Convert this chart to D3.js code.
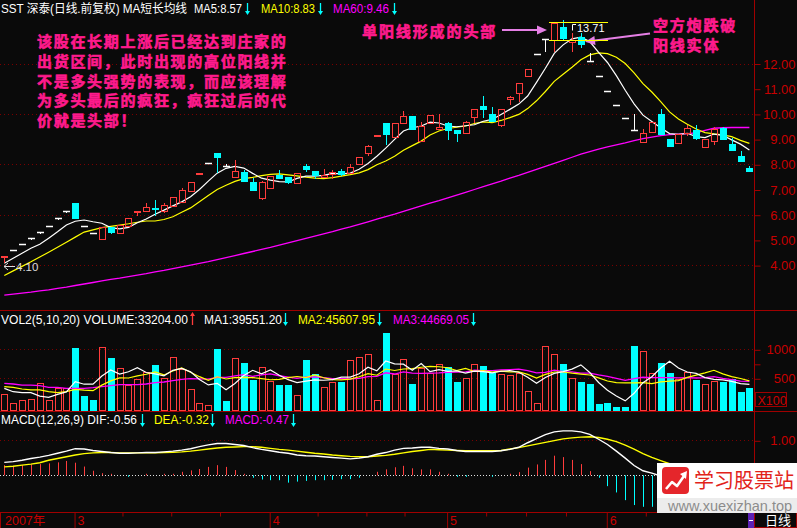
<!DOCTYPE html>
<html><head><meta charset="utf-8">
<script src="https://cdn.jsdelivr.net/npm/d3@7/dist/d3.min.js"></script>
<style>
html,body{margin:0;padding:0;background:#0a0a0a;overflow:hidden;}
svg{display:block;}
text{font-family:"Liberation Sans",Arial,"Noto Sans CJK SC",sans-serif;}
</style></head><body>
<svg id="chart" width="797" height="528"></svg>
<script>
// ---------------- DATA ----------------
const opens = [4.31,4.59,4.82,5.06,5.31,5.57,5.85,6.14,6.45,5.54,5.26,5.02,5.50,5.26,5.55,6.12,6.16,6.27,6.14,6.35,6.49,6.96,7.63,8.04,8.44,7.93,7.48,7.71,7.31,6.68,7.05,7.58,7.48,7.27,7.93,7.73,7.51,7.60,7.73,7.67,8.02,8.46,9.14,9.63,9.10,9.65,9.92,8.94,9.63,9.42,9.63,9.36,9.23,9.86,10.31,10.00,9.56,10.58,10.82,11.50,12.37,12.99,12.93,13.44,12.85,13.06,12.09,11.49,10.92,10.37,9.85,9.36,8.90,9.29,10.00,8.99,8.83,9.25,9.36,8.70,8.94,9.43,8.81,8.33,7.84];
const highs = [4.37,4.59,4.82,5.06,5.31,5.57,5.85,6.14,6.48,5.54,5.26,5.52,5.52,5.60,5.87,6.15,6.45,6.58,6.48,6.70,7.05,7.30,7.66,8.04,8.44,8.00,8.17,7.78,7.45,7.32,7.55,7.78,7.50,7.65,8.00,7.74,7.82,7.78,7.80,8.00,8.30,8.75,9.17,9.64,9.64,10.10,9.93,9.66,9.95,10.00,9.68,9.38,9.70,10.20,10.70,10.26,10.20,10.70,11.23,11.79,12.37,12.99,13.64,13.71,13.20,13.20,12.43,11.49,10.92,10.37,9.85,10.00,9.42,9.68,10.20,9.00,9.21,9.55,9.55,9.00,9.50,9.50,9.05,8.54,7.95];
const lows = [4.10,4.55,4.82,5.00,5.22,5.50,5.78,6.08,5.83,5.54,5.26,5.00,5.25,5.24,5.53,5.96,6.14,5.96,6.07,6.33,6.45,6.94,7.63,8.04,7.64,7.88,7.46,7.30,6.94,6.60,7.03,7.40,7.20,7.25,7.70,7.40,7.49,7.42,7.55,7.65,8.00,8.33,9.10,8.77,9.08,9.60,9.35,8.92,9.61,9.40,8.97,8.90,9.21,9.65,9.85,9.67,9.50,10.35,10.47,11.48,12.37,12.47,12.47,12.90,12.45,12.60,12.09,11.49,10.92,10.37,9.85,9.36,8.88,9.27,9.15,8.69,8.81,9.12,8.98,8.69,8.77,8.95,8.53,8.09,7.70];
const closes = [4.37,4.59,4.82,5.06,5.31,5.57,5.85,6.14,5.83,5.54,5.26,5.52,5.29,5.58,5.86,6.15,6.29,6.22,6.38,6.69,6.98,7.29,7.66,8.04,8.26,7.93,7.73,7.31,6.95,7.31,7.54,7.42,7.27,7.64,7.77,7.53,7.57,7.68,7.57,7.88,8.28,8.73,9.16,9.17,9.63,9.92,9.36,9.52,9.94,9.47,9.33,9.20,9.69,10.18,10.15,9.69,10.18,10.69,11.22,11.78,12.37,12.99,13.62,12.96,12.95,12.73,12.09,11.49,10.92,10.37,9.85,9.36,9.23,9.67,9.16,8.70,9.20,9.43,8.99,8.99,9.39,8.96,8.54,8.10,7.71];
const ma5 = [4.07,4.27,4.47,4.67,4.83,5.07,5.32,5.59,5.74,5.79,5.72,5.66,5.49,5.44,5.50,5.68,5.83,6.02,6.18,6.35,6.51,6.71,7.00,7.33,7.65,7.84,7.92,7.85,7.64,7.45,7.37,7.31,7.30,7.44,7.53,7.53,7.56,7.64,7.62,7.65,7.80,8.03,8.32,8.64,8.99,9.32,9.45,9.52,9.67,9.64,9.52,9.49,9.53,9.57,9.71,9.78,9.98,10.18,10.39,10.71,11.25,11.81,12.40,12.74,12.98,13.05,12.87,12.44,12.04,11.52,10.94,10.40,9.95,9.70,9.45,9.22,9.19,9.23,9.10,9.06,9.20,9.15,8.97,8.80,8.57];
const ma10 = [3.59,3.77,3.95,4.13,4.32,4.51,4.71,4.91,5.11,5.31,5.40,5.49,5.54,5.59,5.64,5.70,5.75,5.75,5.81,5.92,6.10,6.27,6.51,6.76,7.00,7.17,7.32,7.43,7.48,7.55,7.60,7.62,7.58,7.54,7.49,7.45,7.43,7.47,7.53,7.59,7.66,7.79,7.98,8.13,8.32,8.56,8.74,8.92,9.16,9.32,9.42,9.47,9.52,9.62,9.68,9.65,9.74,9.85,9.98,10.21,10.52,10.89,11.29,11.57,11.85,12.15,12.34,12.42,12.39,12.25,12.00,11.63,11.20,10.87,10.49,10.08,9.80,9.59,9.40,9.26,9.21,9.17,9.10,8.95,8.83];
const ma60 = [2.81,2.85,2.89,2.93,2.98,3.02,3.08,3.13,3.19,3.25,3.31,3.37,3.43,3.48,3.54,3.60,3.66,3.73,3.79,3.86,3.93,4.00,4.07,4.14,4.22,4.30,4.38,4.46,4.54,4.62,4.70,4.79,4.88,4.97,5.06,5.15,5.24,5.33,5.43,5.52,5.62,5.72,5.82,5.92,6.02,6.13,6.24,6.35,6.46,6.56,6.67,6.78,6.89,7.00,7.11,7.22,7.33,7.45,7.56,7.68,7.80,7.92,8.04,8.16,8.28,8.40,8.50,8.60,8.69,8.77,8.85,8.94,9.02,9.08,9.14,9.18,9.20,9.22,9.25,9.35,9.43,9.45,9.46,9.46,9.46];
const volumes = [224,69,121,138,414,121,328,328,1017,195,126,1034,845,672,384,483,614,729,500,862,655,310,69,34,1000,109,845,764,471,690,453,384,384,212,816,574,345,436,436,810,862,914,121,1281,569,828,402,683,586,741,690,436,500,741,712,586,569,557,597,281,74,1057,914,747,500,436,402,57,74,12,12,1057,966,586,764,591,483,614,471,397,448,441,483,264,332];
const volMa5 = [326,269,252,252,193,173,224,266,442,398,399,540,643,574,612,684,600,576,542,638,672,611,479,386,414,304,411,550,638,576,645,552,476,425,450,474,466,477,521,520,578,692,629,798,749,743,640,753,614,648,620,627,591,622,616,595,622,633,604,518,416,513,585,615,658,731,600,428,294,196,111,242,424,527,677,793,678,608,585,511,483,474,448,407,396];
const volMa10 = [355,345,316,299,299,269,252,269,310,296,286,382,455,508,505,541,570,610,558,625,678,605,528,464,526,488,511,515,512,495,475,482,513,531,513,559,509,477,473,485,526,579,553,660,635,660,666,691,706,699,682,634,672,618,632,608,624,612,613,567,505,567,609,609,588,573,557,507,454,427,421,421,426,410,437,452,460,516,556,594,638,576,528,496,456];
const volMa20 = [414,402,384,384,373,345,345,328,328,328,339,355,373,390,390,390,402,424,436,460,482,494,491,486,515,515,541,562,535,560,576,544,521,498,519,524,510,496,492,490,500,530,533,595,574,610,588,584,589,592,604,606,612,639,633,634,645,651,659,633,593,601,640,614,610,590,590,559,534,497,463,494,518,510,512,513,508,511,505,511,529,499,477,453,447];
const dif = [0.37,0.39,0.43,0.48,0.52,0.57,0.63,0.69,0.76,0.75,0.71,0.68,0.65,0.63,0.63,0.64,0.65,0.65,0.67,0.69,0.72,0.76,0.82,0.87,0.91,0.91,0.88,0.85,0.79,0.74,0.70,0.66,0.63,0.58,0.56,0.55,0.53,0.51,0.49,0.47,0.49,0.53,0.60,0.65,0.72,0.77,0.78,0.80,0.80,0.77,0.75,0.71,0.68,0.68,0.68,0.68,0.70,0.74,0.80,0.93,1.05,1.16,1.24,1.27,1.27,1.24,1.17,1.03,0.88,0.69,0.49,0.28,0.13,0.06,-0.02,-0.10,-0.15,-0.18,-0.22,-0.26,-0.28,-0.32,-0.38,-0.46,-0.56];
const dea = [0.24,0.26,0.29,0.32,0.36,0.43,0.48,0.53,0.58,0.62,0.64,0.65,0.65,0.64,0.64,0.64,0.64,0.64,0.65,0.66,0.67,0.69,0.72,0.75,0.78,0.80,0.81,0.82,0.82,0.80,0.77,0.74,0.72,0.69,0.66,0.63,0.61,0.58,0.56,0.54,0.53,0.53,0.55,0.57,0.60,0.64,0.68,0.71,0.74,0.73,0.72,0.71,0.70,0.70,0.70,0.70,0.71,0.75,0.79,0.84,0.89,0.94,0.99,1.04,1.07,1.09,1.10,1.08,1.03,0.96,0.86,0.75,0.62,0.51,0.42,0.33,0.25,0.18,0.11,0.04,-0.03,-0.10,-0.17,-0.25,-0.32];
const macdHist = [0.29,0.27,0.29,0.31,0.32,0.34,0.37,0.41,0.36,0.25,0.13,0.06,0.01,0.00,-0.01,0.00,0.01,0.00,0.01,0.02,0.10,0.14,0.18,0.24,0.29,0.24,0.15,0.03,-0.07,-0.12,-0.14,-0.14,-0.21,-0.18,-0.16,-0.14,-0.14,-0.13,-0.11,-0.11,-0.07,0.00,0.10,0.17,0.23,0.27,0.20,0.17,0.17,0.10,0.01,-0.01,-0.01,0.00,0.00,-0.01,0.00,0.02,0.09,0.22,0.31,0.44,0.56,0.52,0.44,0.32,0.12,-0.07,-0.31,-0.49,-0.71,-0.85,-0.90,-0.90,-0.88,-0.86,-0.80,-0.72,-0.66,-0.60,-0.50,-0.44,-0.42,-0.43,-0.47];

const priceTicks = [4,5,6,7,8,9,10,11,12];
const priceGrid = [4,6,8,10,12];
const volTicks = [500,750,1000];
const volLabels = [500,1000];
const macdTicks = [1];
const monthStarts = [8,30,50,68];
const monthLabels = ["3","4","5","6"];
const weekTicks = [13.4,18.9,24.4,35.4,40.9,45.2,54.4,58.9,63.4,72.4];
const yearLabel = "2007年";

const priceHeader = ["SST 深泰(日线.前复权) MA短长均线","MA5:8.57","MA10:8.83","MA60:9.46"];
const volHeader = ["VOL2(5,10,20) VOLUME:33204.00","MA1:39551.20","MA2:45607.95","MA3:44669.05"];
const macdHeader = ["MACD(12,26,9) DIF:-0.56","DEA:-0.32","MACD:-0.47"];
const noteLines = ["该股在长期上涨后已经达到庄家的","出货区间，此时出现的高位阳线并","不是多头强势的表现，而应该理解","为多头最后的疯狂，疯狂过后的代","价就是头部！"];
const noteHead = "单阳线形成的头部";
const noteBreak = ["空方炮跌破","阳线实体"];
const highLabel = "13.71", lowLabel = "4.10";

// ---------------- DRAW ----------------
const svg = d3.select('#chart');
const W=797,H=528,AX=754;
const RED='#ff3c3c', CYAN='#00ffff', WHITE='#ffffff', YEL='#ffff00', MAG='#ff00ff';
const AXC='#a00000', AXT='#c80000', GRID='#7a0000', NOTE='#ff1a8c', ARW='#e57fe5';

svg.append('rect').attr('width',W).attr('height',H).attr('fill','#0a0a0a');

const N = closes.length;
const x = d3.scaleLinear().domain([0,N-1]).range([4.3,749.4]);
const cx = i => Math.round(x(i));
const yP = d3.scaleLinear().domain([4,12]).range([265.1,63.5]);
const yV = d3.scaleLinear().domain([0,1000]).range([407.3,349.3]);
const yM = d3.scaleLinear().domain([0,1]).range([475.3,440.3]);

const defs = svg.append('defs');
function clip(id,x0,y0,w,h){defs.append('clipPath').attr('id',id).append('rect').attr('x',x0).attr('y',y0).attr('width',w).attr('height',h);}
clip('cp',0,18,AX,292); clip('cv',0,328,AX,83); clip('cm',0,427,AX,85);

function hline(g,x1,x2,y,stroke,dash){const l=g.append('line').attr('x1',x1).attr('x2',x2).attr('y1',y).attr('y2',y).attr('stroke',stroke).attr('stroke-width',1);if(dash)l.attr('stroke-dasharray',dash);return l;}
function vline(g,xx,y1,y2,stroke,w){return g.append('line').attr('x1',xx).attr('x2',xx).attr('y1',y1).attr('y2',y2).attr('stroke',stroke).attr('stroke-width',w||1);}
function txt(g,xx,yy,s,fill,size,o={}){const t=g.append('text').attr('x',xx).attr('y',yy).attr('fill',fill).attr('font-size',size).text(s);
  if(o.anchor)t.attr('text-anchor',o.anchor); if(o.weight)t.attr('font-weight',o.weight); if(o.family)t.attr('font-family',o.family);
  if(o.ls!=null)t.attr('letter-spacing',o.ls); if(o.len)t.attr('textLength',o.len).attr('lengthAdjust','spacingAndGlyphs');
  if(o.stroke)t.attr('stroke',fill).attr('stroke-width',o.stroke); return t;}
function arrowV(g,xx,yTail,yTip,color){const d=Math.sign(yTip-yTail);
  vline(g,xx+0.5,yTail,yTip-d*3,color,1.3);
  g.append('path').attr('d',`M${xx-2},${yTip-d*4} L${xx+3},${yTip-d*4} L${xx+0.5},${yTip} Z`).attr('fill',color);}

// grids
const grid = svg.append('g');
priceGrid.forEach(v=>hline(grid,0,AX,Math.round(yP(v))+0.5,GRID,'1,3'));
volLabels.forEach(v=>hline(grid,0,AX,Math.round(yV(v))+0.5,GRID,'1,3'));
macdTicks.forEach(v=>hline(grid,0,AX,Math.round(yM(v))+0.5,GRID,'1,3'));
hline(grid,0,AX,Math.round(yM(0))+0.5,'#e0e0e0','1,2');

// ---- price panel ----
const gp = svg.append('g').attr('clip-path','url(#cp)');
const lineP = arr => d3.line().x((d,i)=>x(i)).y(d=>yP(d))(arr);
gp.append('path').attr('d',lineP(ma60)).attr('stroke',MAG).attr('fill','none').attr('stroke-width',1.3);
gp.append('path').attr('d',lineP(ma10)).attr('stroke',YEL).attr('fill','none').attr('stroke-width',1.2);
gp.append('path').attr('d',lineP(ma5)).attr('stroke',WHITE).attr('fill','none').attr('stroke-width',1.2);

for(let i=0;i<N;i++){
  const o=opens[i],h=highs[i],l=lows[i],c=closes[i],X=cx(i);
  const yh=Math.round(yP(h)), yl=Math.round(yP(l));
  if(c>o){
    const t=Math.round(yP(c)), b=Math.round(yP(o));
    if(t<b-1){
      vline(gp,X+0.5,yh,t,RED); vline(gp,X+0.5,b,yl,RED);
      gp.append('rect').attr('x',X-3+0.5).attr('y',t+0.5).attr('width',6).attr('height',b-t).attr('fill','none').attr('stroke',RED);
    } else {
      vline(gp,X+0.5,yh,yl,RED);
      gp.append('rect').attr('x',X-3).attr('y',t).attr('width',7).attr('height',2).attr('fill',RED);
    }
  } else if(c<o){
    const t=Math.round(yP(o)), b=Math.round(yP(c));
    vline(gp,X+0.5,yh,yl,CYAN);
    gp.append('rect').attr('x',X-3).attr('y',t).attr('width',7).attr('height',Math.max(b-t,2)).attr('fill',CYAN);
  } else {
    const yy=Math.round(yP(c))+0.5;
    if(yl>yh) vline(gp,X+0.5,yh,yl,WHITE);
    hline(gp,X-3,X+4,yy,WHITE).attr('stroke-width',1.5);
  }
}

// high / low markers
const gm = svg.append('g');
const iHigh = highs.indexOf(d3.max(highs));
const yHi = Math.round(yP(d3.max(highs)))+4.5;
gm.append('path').attr('d',`M${cx(iHigh)+9.5},${yHi+6} V${yHi} H${cx(iHigh)+13}`).attr('stroke',WHITE).attr('fill','none');
txt(gm,cx(iHigh)+14,yHi+7.5,highLabel,WHITE,11);
const yLo = Math.round(yP(d3.min(lows)))+3.5;
gm.append('path').attr('d',`M4,${yLo} H15 M8,${yLo-3.5} L4,${yLo} L8,${yLo+3.5}`).attr('stroke','#dcdcdc').attr('fill','none');
txt(gm,16,yLo+4,lowLabel,'#dcdcdc',11.5);

// annotations
const ga = svg.append('g');
const CJK = '"Noto Sans CJK SC",sans-serif';
noteLines.forEach((s,k)=>txt(ga,37,47+k*19.8,s,NOTE,15,{weight:'bold',family:CJK,ls:1.7,stroke:0.6}));
txt(ga,362,37,noteHead,NOTE,15,{weight:'bold',family:CJK,ls:1.9,stroke:0.6});
txt(ga,653,31,noteBreak[0],NOTE,15,{weight:'bold',family:CJK,ls:1.8,stroke:0.6});
txt(ga,653,51,noteBreak[1],NOTE,15,{weight:'bold',family:CJK,ls:1.8,stroke:0.6});
function arrow(g,x1,y1,x2,y2,color){const a=Math.atan2(y2-y1,x2-x1),L=10,Wd=4.5;
  const bx=x2-L*Math.cos(a),by=y2-L*Math.sin(a);
  g.append('line').attr('x1',x1).attr('y1',y1).attr('x2',bx).attr('y2',by).attr('stroke',color).attr('stroke-width',2);
  g.append('path').attr('d',`M${x2},${y2} L${bx+Wd*Math.sin(a)},${by-Wd*Math.cos(a)} L${bx-Wd*Math.sin(a)},${by+Wd*Math.cos(a)} Z`).attr('fill',color);}
arrow(ga,502,30,547,30,ARW);
arrow(ga,650,33.5,585,41.7,ARW);
const iPeak = 62;
hline(ga,cx(iPeak)-5,cx(iPeak)+54,Math.round(yP(highs[iPeak]))+0.5,YEL);
hline(ga,cx(iPeak)-5,cx(iPeak)+54,Math.round(yP(opens[iPeak]))+0.5,YEL);

// ---- volume panel ----
const gv = svg.append('g').attr('clip-path','url(#cv)');
const lineV = arr => d3.line().x((d,i)=>x(i)).y(d=>yV(d))(arr);
for(let i=0;i<N;i++){
  const c=closes[i],o=opens[i],X=cx(i),t=Math.round(yV(volumes[i]));
  const up = c>o || (c===o && (i===0 || c>=closes[i-1]));
  if(up) gv.append('rect').attr('x',X-3+0.5).attr('y',t+0.5).attr('width',6).attr('height',410-t).attr('fill','none').attr('stroke',RED);
  else gv.append('rect').attr('x',X-3).attr('y',t).attr('width',7).attr('height',411-t).attr('fill',CYAN);
}
gv.append('path').attr('d',lineV(volMa20)).attr('stroke',MAG).attr('fill','none').attr('stroke-width',1.3);
gv.append('path').attr('d',lineV(volMa10)).attr('stroke',YEL).attr('fill','none').attr('stroke-width',1.2);
gv.append('path').attr('d',lineV(volMa5)).attr('stroke',WHITE).attr('fill','none').attr('stroke-width',1.2);

// ---- MACD panel ----
const gmc = svg.append('g').attr('clip-path','url(#cm)');
for(let i=0;i<N;i++){
  const v=macdHist[i]; if(Math.abs(v)<0.005) continue;
  const y0=yM(0), y1=yM(v);
  vline(gmc,cx(i)+0.5,y0,Math.abs(y1-y0)<1.5?y0+(v>0?-1.5:1.5):y1,v>0?RED:CYAN);
}
const lineM = arr => d3.line().x((d,i)=>x(i)).y(d=>yM(d))(arr);
gmc.append('path').attr('d',lineM(dea)).attr('stroke',YEL).attr('fill','none').attr('stroke-width',1.4);
gmc.append('path').attr('d',lineM(dif)).attr('stroke',WHITE).attr('fill','none').attr('stroke-width',1.4);

// ---- frame lines ----
const gf = svg.append('g');
hline(gf,0,W,310.5,AXC); hline(gf,0,W,411.5,AXC); hline(gf,0,W,512.5,AXC);
vline(gf,AX+0.5,0,512,AXC);
vline(gf,0.5,512,528,AXC);

// ---- right axes ----
function styleAxis(g){g.select('.domain').remove();g.selectAll('line').attr('stroke',AXC);
  g.selectAll('text').attr('fill',AXT).attr('text-anchor','end').attr('x',41).attr('font-size',13)
   .attr('font-family','"Liberation Sans",Arial,sans-serif');}
const axP = d3.axisRight(yP).tickValues(priceTicks).tickFormat(d3.format('.2f')).tickSize(6);
svg.append('g').attr('transform',`translate(${AX+0.5},0.5)`).call(axP).call(styleAxis);
const axV = d3.axisRight(yV).tickValues(volTicks).tickFormat(d=>volLabels.includes(d)?String(d):'').tickSize(6);
svg.append('g').attr('transform',`translate(${AX+0.5},0.5)`).call(axV).call(styleAxis);
const axM = d3.axisRight(yM).tickValues(macdTicks).tickFormat(d3.format('.2f')).tickSize(6);
svg.append('g').attr('transform',`translate(${AX+0.5},0.5)`).call(axM).call(styleAxis);
svg.append('rect').attr('x',755.5).attr('y',392.5).attr('width',31).attr('height',14).attr('fill','none').attr('stroke',AXC);
txt(svg,757.5,404.5,'X100',AXT,12.5);

// ---- date axis ----
const xTick = d3.scaleLinear().domain(x.domain()).range(x.range().map(v=>v-1.2));
const axD = d3.axisBottom(xTick).tickValues(monthStarts).tickFormat((d,i)=>monthLabels[i]).tickSize(16);
const gd = svg.append('g').attr('transform','translate(0.5,512.5)').call(axD);
gd.select('.domain').remove();
gd.selectAll('line').attr('stroke',AXC);
gd.selectAll('text').attr('fill',AXT).attr('font-size',12.5).attr('text-anchor','start').attr('x',2.5).attr('y',12).attr('dy','0');
const axW = d3.axisBottom(xTick).tickValues(weekTicks).tickFormat('').tickSize(4);
const gw = svg.append('g').attr('transform','translate(0.5,512.5)').call(axW);
gw.select('.domain').remove(); gw.selectAll('line').attr('stroke',AXC);
txt(svg,5,524.5,yearLabel,AXT,12.5);

// ---- headers ----
const gh = svg.append('g');
txt(gh,1,13,priceHeader[0],WHITE,12,{len:186});
txt(gh,194,13,priceHeader[1],WHITE,12,{len:48}); arrowV(gh,247,3,15,CYAN);
txt(gh,261,13,priceHeader[2],YEL,12,{len:54}); arrowV(gh,320,3,15,CYAN);
txt(gh,333,13,priceHeader[3],MAG,12,{len:56}); arrowV(gh,394,3,15,CYAN);

txt(gh,1,324,volHeader[0],WHITE,12,{len:187}); arrowV(gh,192,325,312,RED);
txt(gh,204,324,volHeader[1],WHITE,12,{len:78}); arrowV(gh,285,313,326,CYAN);
txt(gh,298,324,volHeader[2],YEL,12,{len:77}); arrowV(gh,379,313,326,CYAN);
txt(gh,393,324,volHeader[3],MAG,12,{len:76}); arrowV(gh,473,313,326,CYAN);

txt(gh,1,424,macdHeader[0],WHITE,12,{len:136}); arrowV(gh,142,414,427,CYAN);
txt(gh,154,424,macdHeader[1],YEL,12,{len:55}); arrowV(gh,212,414,427,CYAN);
txt(gh,225,424,macdHeader[2],MAG,12,{len:64}); arrowV(gh,293,414,427,CYAN);

// ---- bottom-right widgets ----
svg.append('rect').attr('x',748).attr('y',513).attr('width',6).attr('height',15).attr('fill','#5b22b5');
hline(svg,749,753,520.5,'#ffffff');
svg.append('rect').attr('x',754.5).attr('y',512.5).attr('width',42).attr('height',15).attr('fill','#0a0a0a').attr('stroke',AXC);
txt(svg,765,525,'日线',WHITE,13,{family:CJK});

// ---- watermark ----
const wm = svg.append('g');
wm.append('rect').attr('x',657).attr('y',463).attr('width',140).attr('height',35).attr('fill','#ffffff');
wm.append('rect').attr('x',657).attr('y',498).attr('width',140).attr('height',15).attr('fill','#ececec');
wm.append('rect').attr('x',662).attr('y',467).attr('width',27).attr('height',27).attr('rx',4).attr('fill','#e5262b');
wm.append('path').attr('d','M666,489 L672,482 L677,486 L684,476').attr('stroke','#fff').attr('stroke-width',2.6).attr('fill','none').attr('stroke-linejoin','round');
wm.append('path').attr('d','M680,474 L687,471 L686,479 Z').attr('fill','#fff');
txt(wm,694,488,'学习股票站','#e2231a',20,{family:CJK});
txt(wm,668,511,'www.xuexizhan.top','#8c8c8c',14.5);
</script>
</body></html>
